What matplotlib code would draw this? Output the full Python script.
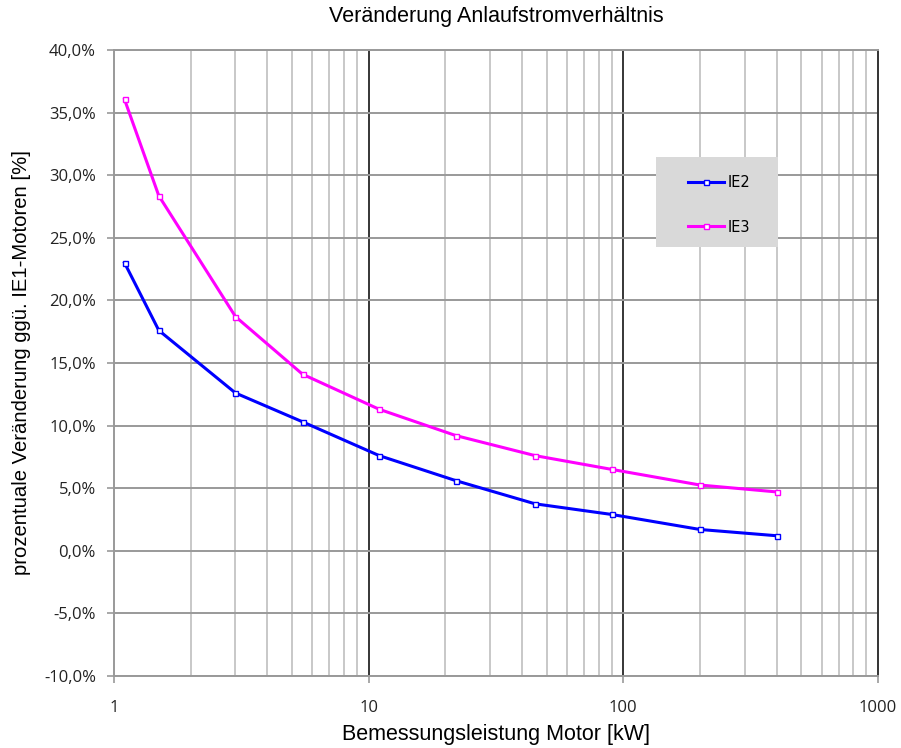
import matplotlib.pyplot as plt
from matplotlib.ticker import FuncFormatter, FixedLocator, NullFormatter
from matplotlib.patches import Rectangle
from matplotlib.lines import Line2D

# data
leistung_kw = [1.1, 1.5, 3, 5.5, 11, 22, 45, 90, 200, 400]
ie2_pct = [23.0, 17.6, 12.6, 10.3, 7.6, 5.6, 3.75, 2.9, 1.7, 1.2]
ie3_pct = [36.05, 28.35, 18.7, 14.1, 11.3, 9.2, 7.6, 6.5, 5.25, 4.7]
y_ticks = [-10, -5, 0, 5, 10, 15, 20, 25, 30, 35, 40]
x_ticks = [1, 10, 100, 1000]

BLUE = '#0000ff'
MAGENTA = '#ff00ff'

fig = plt.figure(figsize=(9.01, 7.48), dpi=100)
ax = fig.add_axes([0.1265, 0.0963, 0.848, 0.8369])

# grid
minor_x = [m * d for d in (1, 10, 100) for m in range(2, 10)]
for xv in minor_x:
    ax.axvline(xv, color='#c8c8c8', lw=1.4, zorder=0)
for xv in (10, 100):
    ax.axvline(xv, color='black', lw=1.1, zorder=0.5)
for yv in y_ticks:
    ax.axhline(yv, color='#999999', lw=1.4, zorder=0.6)

ax.set_xscale('log')
ax.set_xlim(1, 1000)
ax.set_ylim(-10, 40)

for ys, col in ((ie2_pct, BLUE), (ie3_pct, MAGENTA)):
    ax.plot(leistung_kw, ys, color=col, lw=2.2, marker='s', ms=3.6, mfc='white',
            mec=col, mew=1.0, zorder=3)

ax.xaxis.set_major_locator(FixedLocator(x_ticks))
ax.xaxis.set_major_formatter(FuncFormatter(lambda v, p: '%d' % v))
ax.xaxis.set_minor_locator(FixedLocator([]))
ax.xaxis.set_minor_formatter(NullFormatter())
ax.set_yticks(y_ticks)
ax.yaxis.set_major_formatter(FuncFormatter(lambda v, p: ('%.1f%%' % v).replace('.', ',')))

for s in ('left', 'top', 'bottom'):
    ax.spines[s].set_color('#999999')
    ax.spines[s].set_linewidth(1.4)
ax.spines['right'].set_color('#333333')
ax.spines['right'].set_linewidth(1.4)

ax.tick_params(axis='both', which='major', direction='out', length=5, width=1.2,
               color='#999999', labelsize=12, labelcolor='#222222')
ax.tick_params(axis='y', pad=8)
ax.tick_params(axis='x', pad=12)
for lab in ax.get_xticklabels() + ax.get_yticklabels():
    lab.set_family('Open Sans')

ax.set_xlabel('Bemessungsleistung Motor [kW]', family='Liberation Sans',
              fontsize=15.5, labelpad=6)
ax.set_ylabel('prozentuale Veränderung ggü. IE1-Motoren [%]', family='Liberation Sans',
              fontsize=14.6, labelpad=9)
ax.set_title('Veränderung Anlaufstromverhältnis', family='Liberation Sans',
             fontsize=15.5, pad=20)

# legend: grey box plus entries
ax.add_patch(Rectangle((0.7094, 0.6853), 0.1597, 0.1438, transform=ax.transAxes,
                       facecolor='#d9d9d9', edgecolor='none', zorder=5))
handles = [Line2D([], [], color=BLUE, lw=2.2, marker='s', ms=3.6, mfc='white', mec=BLUE),
           Line2D([], [], color=MAGENTA, lw=2.2, marker='s', ms=3.6, mfc='white', mec=MAGENTA)]
leg = ax.legend(handles, ['IE2', 'IE3'], loc='center left',
                bbox_to_anchor=(0.7513, 0.7524), frameon=False,
                prop={'family': 'DejaVu Sans', 'size': 10.5},
                handlelength=2.47, handletextpad=0.27, labelspacing=2.0,
                borderpad=0, borderaxespad=0)
leg.set_zorder(6)

fig.savefig('out.png', dpi=100)
